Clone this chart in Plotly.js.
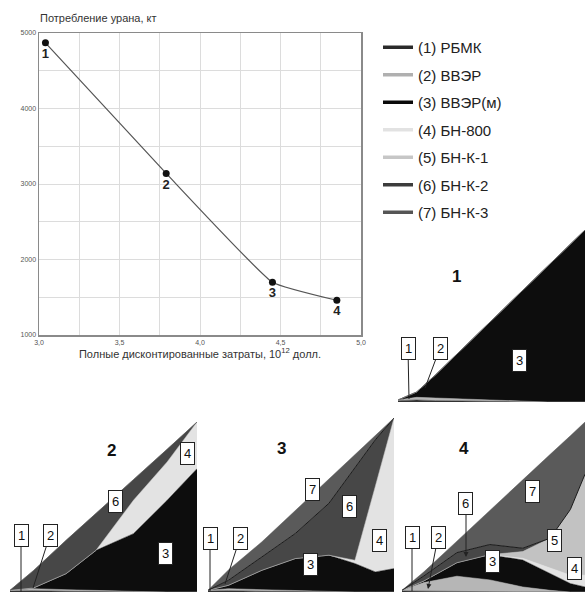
<!DOCTYPE html>
<html><head><meta charset="utf-8">
<script src="https://cdn.plot.ly/plotly-3.0.1.min.js"></script>
<style>html,body{margin:0;padding:0;background:#fff}#chart{width:585px;height:593px}</style>
</head><body><div id="chart"></div>
<script>
// ---- Main chart data ----
const costs = [3.04, 3.79, 4.45, 4.85];           // 10^12 USD
const uranium = [4870, 3140, 1700, 1460];         // kt
const pointLabels = ['1', '2', '3', '4'];

// ---- Reactor types (legend) ----
const reactorNames = ['(1) РБМК', '(2) ВВЭР', '(3) ВВЭР(м)', '(4) БН-800', '(5) БН-К-1', '(6) БН-К-2', '(7) БН-К-3'];
const legendColors = ['#2a2a2a', '#b0b0b0', '#0a0a0a', '#e2e2e2', '#c6c6c6', '#3c3c3c', '#555555'];
const fillColors   = ['#333333', '#b6b6b6', '#0d0d0d', '#e3e3e3', '#c2c2c2', '#474747', '#5a5a5a'];

// ---- Scenario structure diagrams (stacked layer thickness, relative units) ----
const t1 = [0, 0.1, 0.2, 0.4, 0.6, 0.8, 1.0];
const s1 = [
  [4, 6, 4, 2, 0, 0, 0],
  [2, 8, 8, 6, 3, 0, 0],
  [0, 16, 69, 182, 296, 408, 515],
  [0, 0, 0, 0, 0, 0, 0],
  [0, 0, 0, 0, 0, 0, 0],
  [0, 0, 0, 0, 0, 0, 0],
  [0, 0, 0, 0, 0, 0, 0]
];
const t2 = [0, 0.125, 0.3, 0.46, 0.66, 0.84, 1.0];
const s2 = [
  [3, 4, 2, 1, 0, 0, 0],
  [2, 6, 5, 3, 2, 0, 0],
  [0, 2, 48, 121, 173, 275, 370],
  [0, 0, 0, 0, 100, 115, 140],
  [0, 0, 0, 0, 0, 0, 0],
  [0, 52, 100, 112, 62, 38, 0],
  [0, 0, 0, 0, 0, 0, 0]
];
const t3 = [0, 0.11, 0.29, 0.47, 0.65, 0.79, 0.9, 1.0];
const s3 = [
  [3, 4, 2, 1, 0, 0, 0, 0],
  [2, 6, 5, 3, 2, 0, 0, 0],
  [0, 10, 58, 96, 108, 85, 60, 70],
  [0, 0, 0, 0, 0, 10, 257, 450],
  [0, 0, 0, 0, 0, 0, 0, 0],
  [0, 15, 40, 75, 155, 275, 138, 0],
  [0, 31, 45, 69, 72, 42, 13, 0]
];
const t4 = [0, 0.12, 0.3, 0.48, 0.66, 0.81, 0.92, 1.0];
const s4 = [
  [3, 3, 2, 1, 0, 0, 0, 0],
  [2, 25, 45, 35, 15, 5, 0, 0],
  [0, 5, 40, 75, 80, 50, 25, 15],
  [0, 0, 0, 0, 5, 15, 25, 35],
  [0, 0, 0, 0, 20, 90, 195, 300],
  [0, 15, 30, 30, 10, 0, 0, 0],
  [0, 12, 34, 102, 205, 249, 219, 155]
];
const scenarioTitles = ['1', '2', '3', '4'];

// ---- helpers ----
const W = 585, H = 593;
const px = v => v / W;
const py = v => 1 - v / H;

const traces = [];
// main line
traces.push({
  x: costs, y: uranium, mode: 'lines', type: 'scatter',
  line: {color: '#555', width: 1.2, shape: 'spline', smoothing: 0.35},
  showlegend: false, hoverinfo: 'skip', xaxis: 'x', yaxis: 'y'
});
traces.push({
  x: costs, y: uranium, mode: 'markers+text', type: 'scatter',
  marker: {color: '#111', size: 7},
  text: pointLabels, textposition: 'bottom center',
  textfont: {family: 'Arial, Liberation Sans, sans-serif', size: 13, color: '#222', weight: 'bold'},
  showlegend: false, hoverinfo: 'skip', xaxis: 'x', yaxis: 'y'
});
// legend entries
reactorNames.forEach((n, i) => traces.push({
  x: [null], y: [null], mode: 'lines', type: 'scatter', name: n,
  line: {color: legendColors[i], width: 3.5}, legendgroup: 'g' + i,
  xaxis: 'x', yaxis: 'y'
}));

// stacked scenario diagrams
const scen = [[t1, s1, 'x2', 'y2'], [t2, s2, 'x3', 'y3'], [t3, s3, 'x4', 'y4'], [t4, s4, 'x5', 'y5']];
scen.forEach(([t, s, xa, ya], k) => {
  s.forEach((vals, i) => {
    const edge = (i === 5 && (k === 2 || k === 3));
    traces.push({
      x: t, y: vals, type: 'scatter', mode: 'lines', stackgroup: 'sc' + k,
      fillcolor: fillColors[i],
      line: {color: edge ? '#1a1a1a' : fillColors[i], width: edge ? 1 : 0.5},
      showlegend: false, hoverinfo: 'skip', xaxis: xa, yaxis: ya
    });
  });
});

const hid = (dom, rng) => ({domain: dom, range: rng, visible: false, fixedrange: true});

const FONT = 'Arial, Liberation Sans, sans-serif';
const annotations = [];
function bigLabel(txt, x, y) {
  annotations.push({text: txt, x: px(x), y: py(y), xref: 'paper', yref: 'paper', showarrow: false,
    font: {family: FONT, size: 17, color: '#111', weight: 'bold'}});
}
function box(txt, bx, by, tx, ty, head) {
  const a = {text: txt, xref: 'paper', yref: 'paper', bgcolor: '#fff', bordercolor: '#222', borderwidth: 1, borderpad: 3,
    font: {family: FONT, size: 13, color: '#111'}};
  if (tx === undefined) { a.x = px(bx); a.y = py(by); a.showarrow = false; }
  else {
    a.x = px(tx); a.y = py(ty); a.showarrow = true; a.ax = bx - tx; a.ay = by - ty;
    a.arrowhead = head ? 2 : 0; a.arrowsize = 1; a.arrowwidth = 1; a.arrowcolor = '#222';
  }
  annotations.push(a);
}
bigLabel(scenarioTitles[0], 463, 276);
bigLabel(scenarioTitles[1], 105, 462);
bigLabel(scenarioTitles[2], 281, 460);
bigLabel(scenarioTitles[3], 471, 460);
// scenario 1
box('1', 408, 348, 409, 399); box('2', 440, 348, 425, 388); box('3', 527, 360);
// scenario 2
box('1', 21, 535, 21, 592); box('2', 50, 535, 33, 588); box('6', 108, 513); box('4', 180, 465); box('3', 158, 565);
// scenario 3
box('1', 210, 538, 210, 591); box('2', 240, 538, 225, 584); box('7', 312, 501); box('6', 349, 518); box('4', 379, 552); box('3', 310, 576);
// scenario 4
box('1', 412, 537, 412, 591); box('2', 438, 537, 428, 589, true); box('6', 466, 503, 466, 557, true);
box('7', 540, 503); box('5', 562, 552); box('4', 582, 580); box('3', 500, 573);

const layout = {
  width: W, height: H, margin: {l: 0, r: 0, t: 0, b: 0},
  paper_bgcolor: '#fff', plot_bgcolor: '#fff',
  separators: ', ',
  font: {family: FONT, color: '#222'},
  title: {text: 'Потребление урана, кт', x: px(40), xanchor: 'left', y: py(18), yanchor: 'middle',
    font: {family: FONT, size: 11, color: '#333'}},
  xaxis: {domain: [px(39), px(361)], range: [3, 5], dtick: 0.5, tick0: 3, tickformat: '.1f',
    showgrid: true, gridcolor: '#dcdcdc', minor: {dtick: 0.25, showgrid: true, gridcolor: '#dcdcdc'},
    showline: true, mirror: true, linecolor: '#8a8a8a', linewidth: 1.5, zeroline: false,
    tickfont: {size: 7, color: '#555'}, ticks: '', fixedrange: true, anchor: 'y',
    title: {text: 'Полные дисконтированные затраты, 10<sup>12</sup> долл.', standoff: 0, font: {family: FONT, size: 11, color: '#333'}}},
  yaxis: {domain: [py(335), py(33)], range: [1000, 5000], dtick: 1000, tick0: 1000,
    showgrid: true, gridcolor: '#dcdcdc', minor: {dtick: 500, showgrid: true, gridcolor: '#dcdcdc'},
    showline: true, mirror: true, linecolor: '#8a8a8a', linewidth: 1.5, zeroline: false,
    tickfont: {size: 7, color: '#555'}, ticks: '', fixedrange: true, anchor: 'x'},
  xaxis2: Object.assign(hid([px(398), 1], [0, 1]), {anchor: 'y2'}),
  yaxis2: Object.assign(hid([py(402), py(230)], [0, 515]), {anchor: 'x2'}),
  xaxis3: Object.assign(hid([px(10), px(197)], [0, 1]), {anchor: 'y3'}),
  yaxis3: Object.assign(hid([py(592), py(422)], [0, 510]), {anchor: 'x3'}),
  xaxis4: Object.assign(hid([px(208), px(394)], [0, 1]), {anchor: 'y4'}),
  yaxis4: Object.assign(hid([py(592), py(418)], [0, 520]), {anchor: 'x4'}),
  xaxis5: Object.assign(hid([px(402), 1], [0, 1]), {anchor: 'y5'}),
  yaxis5: Object.assign(hid([py(592), py(422)], [0, 505]), {anchor: 'x5'}),
  showlegend: true,
  legend: {x: px(378), y: py(31), xanchor: 'left', yanchor: 'top', bgcolor: 'rgba(0,0,0,0)',
    traceorder: 'grouped', tracegroupgap: 5, font: {family: FONT, size: 15, color: '#222'}, itemwidth: 30},
  annotations: annotations
};

Plotly.newPlot('chart', traces, layout, {displayModeBar: false, staticPlot: true});
</script></body></html>
